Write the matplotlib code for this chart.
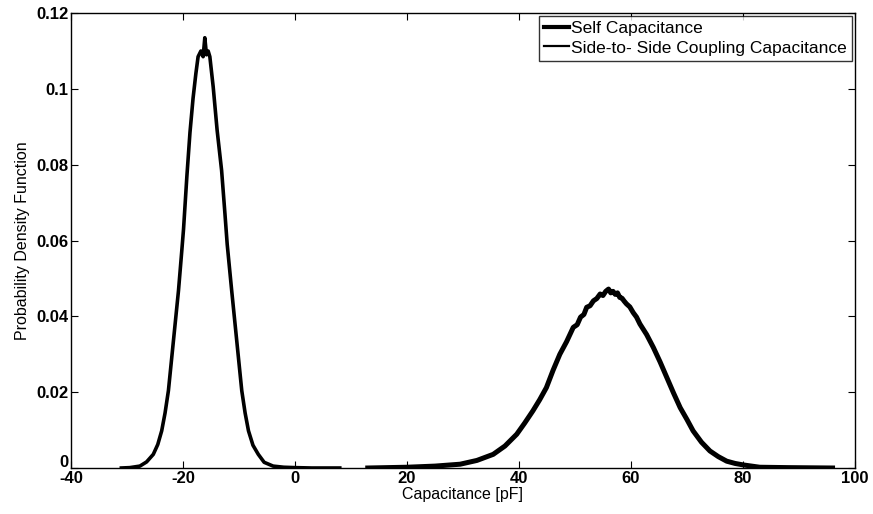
import matplotlib
matplotlib.use("Agg")
import matplotlib.pyplot as plt
from matplotlib.transforms import ScaledTranslation

plt.rcParams['font.family'] = ['Liberation Sans', 'DejaVu Sans']
plt.rcParams['axes.unicode_minus'] = False

# Side-to-side coupling capacitance PDF (left peak)
coupling_x = [-31.0, -29.5, -27.7, -26.5, -25.3, -24.5, -23.8, -23.2, -22.6, -21.7, -20.8,
              -20.2, -19.9, -19.3, -18.75, -18.2, -17.7, -17.3, -16.8, -16.4, -16.1, -15.8,
              -15.5, -15.2, -14.6, -13.9, -13.1, -12.5, -12.1, -11.3, -10.4, -9.5, -8.9,
              -8.3, -7.5, -6.55, -5.5, -3.9, -2.0, 0.0, 3.0, 8.0]
coupling_y = [0.0000, 0.0001, 0.0005, 0.0016, 0.0036, 0.0062, 0.0098, 0.0145, 0.0204, 0.0336, 0.0468,
              0.0575, 0.0630, 0.0770, 0.0885, 0.0975, 0.1040, 0.1085, 0.1100, 0.1085, 0.1135, 0.1090,
              0.1100, 0.1085, 0.1005, 0.0891, 0.0785, 0.0670, 0.0590, 0.0468, 0.0336, 0.0204, 0.0145,
              0.0098, 0.0060, 0.0036, 0.0015, 0.0005, 0.0002, 0.0001, 0.0000, 0.0000]

# Self capacitance PDF (right peak)
self_x = [13.0, 20.0, 25.0, 29.5, 32.5, 35.4, 37.5, 39.6, 41.0, 42.5, 43.7, 44.9, 46.1, 47.3,
          48.5, 49.7, 50.4, 51.0, 51.6, 52.1, 52.7, 53.3, 53.9, 54.5, 55.0, 55.5, 56.0, 56.4,
          56.8, 57.2, 57.6, 58.0, 58.4, 58.8, 59.2, 59.8, 60.4, 61.0, 61.6, 62.8, 64.0, 65.2,
          66.4, 67.6, 68.8, 70.0, 71.1, 72.6, 74.1, 75.6, 77.1, 78.6, 80.1, 83.0, 88.0, 96.0]
self_y = [0.0000, 0.0002, 0.0005, 0.0010, 0.0020, 0.0036, 0.0058, 0.0089, 0.0118, 0.0151, 0.0180,
          0.0212, 0.0258, 0.0300, 0.0333, 0.0371, 0.0378, 0.0398, 0.0405, 0.0424, 0.0428, 0.0441,
          0.0447, 0.0459, 0.0455, 0.0466, 0.0472, 0.0462, 0.0466, 0.0458, 0.0462, 0.0450,
          0.0448, 0.0440, 0.0433, 0.0425, 0.0410, 0.0398, 0.0380, 0.0352, 0.0318, 0.0280,
          0.0239, 0.0198, 0.0159, 0.0128, 0.0098, 0.0068, 0.0045, 0.0030, 0.0018, 0.0012,
          0.0008, 0.0002, 0.0001, 0.0000]

xticks = [-40, -20, 0, 20, 40, 60, 80, 100]
yticks = [0, 0.02, 0.04, 0.06, 0.08, 0.1, 0.12]
ytick_labels = ["0", "0.02", "0.04", "0.06", "0.08", "0.1", "0.12"]

fig = plt.figure(figsize=(8.73, 5.14), dpi=100)
ax = fig.add_axes([0.0813, 0.0895, 0.898, 0.885])

ax.plot(self_x, self_y, color='black', lw=3.6, label='Self Capacitance')
ax.plot(coupling_x, coupling_y, color='black', lw=2.6, label='Side-to- Side Coupling Capacitance')

ax.set_xlim(-40, 100)
ax.set_ylim(0, 0.12)
ax.set_xticks(xticks)
ax.set_yticks(yticks)
ax.set_yticklabels(ytick_labels)
ax.tick_params(direction='in', top=True, right=True, length=5, width=0.8,
               labelsize=12, pad=2)
for lab in ax.get_xticklabels() + ax.get_yticklabels():
    lab.set_fontweight('bold')
for s in ax.spines.values():
    s.set_linewidth(1.0)

# nudge the y "0" label up a little so it sits above the "-40" label, as in the reference
zero_lab = ax.get_yticklabels()[0]
zero_lab.set_transform(zero_lab.get_transform() + ScaledTranslation(0, 5 / 72, fig.dpi_scale_trans))

ax.set_xlabel('Capacitance [pF]', fontsize=11.5, labelpad=1)
ax.set_ylabel('Probability Density Function', fontsize=11.5, labelpad=4)

leg = ax.legend(loc='upper right', fontsize=12.5, frameon=True, fancybox=False,
                edgecolor='black', handlelength=1.4, handletextpad=0.15,
                borderaxespad=0.15, borderpad=0.3, labelspacing=0.25)
leg.get_frame().set_linewidth(1.0)
leg.get_lines()[0].set_linewidth(3.0)
leg.get_lines()[1].set_linewidth(1.6)

fig.savefig('out.png', dpi=100)
